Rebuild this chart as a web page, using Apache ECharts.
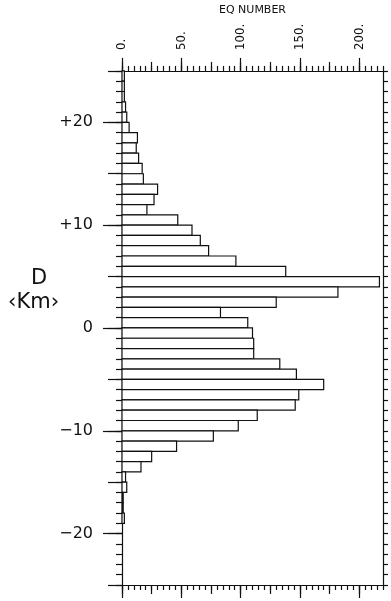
<!DOCTYPE html>
<html><head><meta charset="utf-8">
<script src="https://cdn.jsdelivr.net/npm/echarts@6/dist/echarts.min.js"></script>
<style>html,body{margin:0;padding:0;background:#fff}#c{width:391px;height:601px}</style>
</head><body><div id="c"></div>
<script>
// Top edge (km) of each 1-km depth bin, from +25 down to -24
const binTops = [25,24,23,22,21,20,19,18,17,16,15,14,13,12,11,10,9,8,7,6,5,4,3,2,1,0,
  -1,-2,-3,-4,-5,-6,-7,-8,-9,-10,-11,-12,-13,-14,-15,-16,-17,-18,-19,-20,-21,-22,-23,-24];
// Earthquake count in each bin
const eqCounts = [2,2,2,3,4,6,13,12,14,17, 18,30,27,21,47,59,66,73,96,138,
  217,182,130,83,106,110,111,111,133,147, 170,149,146,114,98,77,46,25,16,3,
  4,1,1,2,0,0,0,0,0,0];
// Tick labels
const xLabelValues = [0,50,100,150,200];
const xMidTicks = [0,25,50,75,100,125,150,175,200];
const yLabelValues = [20,10,0,-10,-20];
const yLabelTexts = ['+20','+10','0','\u221210','\u221220'];
const yMidTicks = [-25,-20,-15,-10,-5,0,5,10,15,20,25];

const INK = '#111';
const lineStyle = {color: INK, width: 1.2};
function xAx(pos, opts) {
  return Object.assign({
    type: 'value', position: pos, min: 0, max: 220, gridIndex: 0,
    axisLine: {show: false, onZero: false, lineStyle}, splitLine: {show: false},
    axisTick: {show: true, inside: false, length: 5, lineStyle},
    axisLabel: {show: false}
  }, opts);
}
function yAx(pos, opts) {
  return Object.assign({
    type: 'value', position: pos, min: -25, max: 25, gridIndex: 0,
    axisLine: {show: false, onZero: false, lineStyle}, splitLine: {show: false},
    axisTick: {show: true, inside: false, length: 5, lineStyle},
    axisLabel: {show: false}
  }, opts);
}
const chart = echarts.init(document.getElementById('c'), null, {renderer: 'canvas'});
chart.setOption({
  backgroundColor: '#fff',
  animation: false,
  grid: {left: 122, right: 8, top: 63, bottom: 16},
  xAxis: [
    xAx('top', {interval: 5, axisLine: {show: true, onZero: false, lineStyle}}),
    xAx('top', {axisTick: {show: true, length: 9, lineStyle, customValues: xMidTicks}}),
    xAx('top', {
      axisTick: {show: true, length: 13, lineStyle, customValues: xLabelValues},
      axisLabel: {show: true, customValues: xLabelValues, rotate: -90, margin: 21,
        formatter: v => v + '.', color: INK, fontSize: 13,
        fontFamily: "'Liberation Sans Narrow','DejaVu Sans Condensed',sans-serif"},
      name: 'EQ NUMBER', nameLocation: 'middle', nameGap: 52,
      nameTextStyle: {color: INK, fontSize: 11, fontFamily: "'DejaVu Sans',sans-serif"}
    }),
    xAx('bottom', {interval: 5, axisLine: {show: true, onZero: false, lineStyle}}),
    xAx('bottom', {axisTick: {show: true, length: 9, lineStyle, customValues: xMidTicks}}),
    xAx('bottom', {axisTick: {show: true, length: 13, lineStyle, customValues: xLabelValues}})
  ],
  yAxis: [
    yAx('left', {interval: 1, axisLine: {show: true, onZero: false, lineStyle}, axisTick: {show: true, length: 6, lineStyle}}),
    yAx('left', {axisTick: {show: true, length: 14, lineStyle, customValues: yMidTicks}}),
    yAx('left', {
      axisTick: {show: true, length: 19, lineStyle, customValues: yLabelValues},
      axisLabel: {show: true, customValues: yLabelValues, margin: 29, color: INK, fontSize: 16,
        fontFamily: "'DejaVu Sans',sans-serif",
        formatter: v => yLabelTexts[yLabelValues.indexOf(v)]}
    }),
    yAx('right', {interval: 1, axisLine: {show: true, onZero: false, lineStyle}, axisTick: {show: true, length: 5, lineStyle}})
  ],
  graphic: [
    {type: 'text', left: 31, top: 268, style: {text: 'D', fontSize: 21, fill: INK, fontFamily: "'DejaVu Sans',sans-serif"}},
    {type: 'text', left: 8, top: 292, style: {text: '\u2039Km\u203a', fontSize: 21, fill: INK, fontFamily: "'DejaVu Sans',sans-serif"}}
  ],
  series: [{
    type: 'custom',
    xAxisIndex: 0, yAxisIndex: 0,
    encode: {x: 0, y: [1, 2]},
    data: binTops.map((t, i) => [eqCounts[i], t, t - 1]),
    renderItem: (params, api) => {
      const v = api.value(0);
      if (!v) return null;
      const a = api.coord([0, api.value(1)]);
      const b = api.coord([v, api.value(2)]);
      return {type: 'rect', shape: {x: a[0], y: a[1], width: b[0] - a[0], height: b[1] - a[1]},
        style: {fill: '#fff', stroke: INK, lineWidth: 1.2}};
    }
  }]
});
</script></body></html>
